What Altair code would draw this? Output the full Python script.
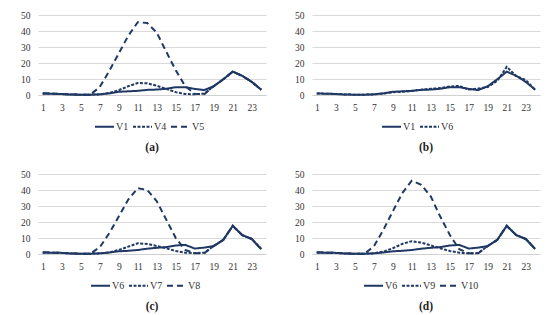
import altair as alt
import pandas as pd

hours = list(range(1, 25))
x_ticks = [1, 3, 5, 7, 9, 11, 13, 15, 17, 19, 21, 23]
y_ticks = [0, 10, 20, 30, 40, 50]

V1 = [1.0, 0.8, 0.6, 0.3, 0.2, 0.2, 0.4, 1.0, 2.0, 2.3, 2.6, 3.2,
      3.4, 3.9, 4.9, 4.9, 3.8, 3.1, 5.5, 9.8, 14.6, 12.0, 8.2, 3.3]
V4 = [1.0, 0.8, 0.6, 0.3, 0.2, 0.2, 0.4, 1.3, 3.0, 5.5, 7.5, 7.3,
      5.8, 3.8, 1.8, 0.6, 0.5, 0.8, 5.5, 9.8, 14.6, 12.0, 8.2, 3.3]
V5 = [1.0, 0.8, 0.6, 0.3, 0.2, 0.2, 5.0, 15.0, 26.0, 37.0, 45.5, 45.0,
      39.0, 27.0, 15.5, 5.5, 0.8, 0.5, 5.5, 9.8, 14.6, 12.0, 8.2, 3.3]
V6 = [1.0, 0.8, 0.7, 0.3, 0.2, 0.2, 0.4, 0.9, 1.7, 2.0, 2.5, 3.3,
      3.9, 4.3, 5.3, 5.7, 3.4, 4.0, 5.0, 8.8, 17.6, 11.8, 9.4, 3.1]
V7 = [1.0, 0.8, 0.7, 0.3, 0.2, 0.2, 0.4, 1.0, 2.5, 4.6, 6.7, 6.3,
      5.0, 3.6, 1.9, 0.8, 0.6, 0.8, 5.0, 8.8, 17.6, 11.8, 9.4, 3.1]
V8 = [1.0, 0.8, 0.7, 0.3, 0.2, 0.2, 4.2, 13.0, 23.4, 34.0, 41.2, 40.0,
      33.0, 21.5, 10.0, 2.5, 0.4, 0.4, 5.0, 8.8, 17.6, 11.8, 9.4, 3.1]
V9 = [1.0, 0.8, 0.7, 0.3, 0.2, 0.2, 0.4, 1.5, 3.6, 6.3, 8.0, 7.1,
      5.4, 3.6, 1.9, 0.8, 0.4, 0.6, 5.0, 8.8, 17.6, 11.8, 9.4, 3.1]
V10 = [1.0, 0.8, 0.7, 0.3, 0.2, 0.2, 4.6, 15.0, 26.6, 38.0, 45.8, 43.3,
       36.0, 23.4, 12.0, 3.0, 0.4, 0.4, 5.0, 8.8, 17.6, 11.8, 9.4, 3.1]

series = {"V1": V1, "V4": V4, "V5": V5, "V6": V6, "V7": V7, "V8": V8,
          "V9": V9, "V10": V10}

panels = [
    ("(a)", ["V1", "V4", "V5"], 56),
    ("(b)", ["V1", "V6"], 69),
    ("(c)", ["V6", "V7", "V8"], 52),
    ("(d)", ["V6", "V9", "V10"], 51),
]

COLOR = "#203864"
FONT = "Liberation Serif"
DASHES = [[1, 0], [3, 1.5], [6, 4]]


def make_panel(caption, names, lx):
    rows = []
    for n in names:
        for h, v in zip(hours, series[n]):
            rows.append({"h": h, "v": v, "s": n, "o": names.index(n)})
    df = pd.DataFrame(rows)
    return alt.Chart(df).mark_line(color=COLOR, strokeWidth=2).encode(
        x=alt.X("h:Q", scale=alt.Scale(domain=[0.5, 24.5], nice=False, zero=False),
                axis=alt.Axis(values=x_ticks, grid=False, ticks=False, domain=True,
                              domainColor="#d0d0d0", domainWidth=1,
                              labelPadding=7, title=None)),
        y=alt.Y("v:Q", scale=alt.Scale(domain=[0, 50], nice=False),
                axis=alt.Axis(values=y_ticks, grid=True, gridColor="#d9d9d9",
                              gridWidth=1, ticks=False, domain=False,
                              labelPadding=8, title=None)),
        strokeDash=alt.StrokeDash(
            "s:N",
            scale=alt.Scale(domain=names, range=DASHES[:len(names)]),
            legend=alt.Legend(orient="none", legendX=lx, legendY=101,
                              direction="horizontal", title=None,
                              symbolType="stroke",
                              symbolSize=361, symbolStrokeWidth=2,
                              symbolStrokeColor=COLOR, labelFont=FONT,
                              labelFontSize=10, labelColor="#333333",
                              labelOffset=1, columnPadding=0, padding=0),
        ),
        order="o:Q",
    ).properties(
        width=228, height=80,
        title=alt.Title(caption, orient="bottom", font=FONT, fontSize=11.5,
                        fontWeight="bold", color="#222222", offset=10),
    )


row1 = alt.hconcat(make_panel(*panels[0]), make_panel(*panels[1]), spacing=28).resolve_scale(strokeDash="independent")
row2 = alt.hconcat(make_panel(*panels[2]), make_panel(*panels[3]), spacing=28).resolve_scale(strokeDash="independent")

chart = alt.vconcat(row1, row2, spacing=15).resolve_scale(
    strokeDash="independent"
).configure_axis(
    labelFont=FONT, labelFontSize=9.5, labelColor="#333333"
).configure_view(stroke=None).properties(
    padding={"left": 12, "top": 2, "right": 2, "bottom": 2}
)

chart.save("out.html", embed_options={"renderer": "svg", "actions": False})
